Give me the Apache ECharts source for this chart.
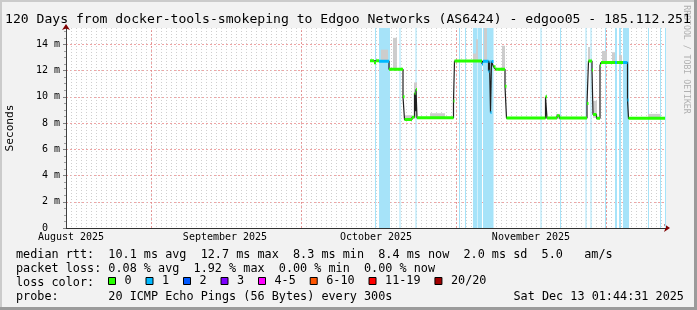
<!DOCTYPE html>
<html><head><meta charset="utf-8">
<script src="https://cdn.jsdelivr.net/npm/echarts@6/dist/echarts.min.js"></script>
<style>html,body{margin:0;padding:0;background:#f2f2f2}#c{width:697px;height:310px}</style>
</head><body><div id="c"></div>
<script>
// x unit: days since 2025-08-15 00:00 ; y unit: milliseconds
const xMinDay = 0, xMaxDay = 120;
const yMaxMs = 15.25;
const monthStartDays = [17, 47, 78, 108];          // Sep 1, Oct 1, Nov 1, Dec 1
const monthLabelDays = [1.0, 31.8, 62.0, 93.0];
const monthLabels = ['August 2025', 'September 2025', 'October 2025', 'November 2025'];

// median rtt: [startDay, endDay, ms, lossLevelIndex]
const medianSegs = [
  [60.8, 61.6, 12.75, 0], [61.6, 62.0, 12.6, 0], [62.0, 62.6, 12.75, 0],
  [62.6, 64.6, 12.72, 1], [64.6, 67.4, 12.1, 0], [67.4, 67.7, 10.0, 0],
  [67.7, 69.2, 8.27, 0], [69.2, 69.7, 8.45, 0], [69.7, 69.9, 10.27, 0],
  [69.9, 70.0, 8.9, 0], [70.0, 70.2, 10.57, 0], [70.2, 77.5, 8.4, 0],
  [77.5, 77.7, 9.68, 0], [77.7, 83.2, 12.73, 0], [83.2, 83.4, 12.5, 1],
  [83.4, 84.5, 12.72, 1], [84.5, 84.7, 11.95, 1], [84.7, 84.9, 12.7, 1],
  [84.9, 85.1, 8.8, 1], [85.1, 85.5, 12.7, 1], [85.5, 85.9, 12.3, 0],
  [85.9, 87.8, 12.1, 0], [87.8, 88.1, 10.8, 0], [88.1, 95.9, 8.38, 0],
  [95.9, 96.2, 10.0, 0], [96.2, 98.2, 8.38, 0], [98.2, 98.7, 8.56, 0],
  [98.7, 104.2, 8.38, 0], [104.2, 104.5, 9.5, 0], [104.5, 105.2, 12.73, 0],
  [105.2, 105.4, 12.04, 0], [105.4, 106.1, 8.65, 0], [106.1, 106.8, 8.36, 0],
  [106.8, 107.0, 12.4, 0], [107.0, 109.8, 12.62, 0], [109.8, 110.2, 12.62, 1],
  [110.2, 111.4, 12.62, 0], [111.4, 112.3, 12.62, 1], [112.3, 112.5, 9.76, 1],
  [112.5, 119.8, 8.36, 0]
];

// smoke (ping spread) spikes: [startDay, endDay, lowMs, highMs]
const smokeSpikes = [
  [63.0, 64.4, 12.7, 13.6], [65.4, 66.2, 12.1, 14.5], [67.8, 69.2, 8.2, 8.6],
  [69.6, 70.2, 8.4, 11.1], [72.8, 75.8, 8.4, 8.75], [81.4, 82.2, 12.7, 13.3],
  [82.0, 82.4, 12.7, 14.4], [83.6, 84.2, 12.7, 15.25], [87.2, 87.8, 12.1, 13.9],
  [98.0, 98.8, 8.3, 8.7], [104.4, 104.8, 12.7, 13.8], [105.4, 106.2, 8.4, 9.7],
  [107.2, 108.2, 12.6, 13.5], [109.2, 109.8, 12.6, 13.4], [110.6, 111.2, 12.6, 13.2],
  [116.4, 118.8, 8.3, 8.7]
];

// loss background periods: [startDay, endDay]
const lossBands = [
  [61.8, 62.0], [62.6, 64.8], [66.7, 66.9], [69.9, 70.1], [78.6, 78.8], [79.8, 80.0],
  [81.4, 82.3], [82.4, 83.2], [83.4, 85.5], [94.9, 95.1], [98.8, 99.0], [103.9, 104.1],
  [104.9, 105.1], [107.8, 108.0], [109.8, 110.2], [110.6, 111.0], [111.4, 112.6],
  [116.4, 116.6], [118.8, 119.0], [119.8, 120.0]
];

const lossLevels = ['0', '1', '2', '3', '4-5', '6-10', '11-19', '20/20'];
const lossColors = ['#26ff00', '#00b8ff', '#0059ff', '#7e00ff', '#ff00ff', '#ff5500', '#ff0000', '#a00000'];

const titleText = '120 Days from docker-tools-smokeping to Edgoo Networks (AS6424) - edgoo05 - 185.112.251';
const statRtt = 'median rtt:  10.1 ms avg  12.7 ms max  8.3 ms min  8.4 ms now  2.0 ms sd  5.0   am/s';
const statLoss = 'packet loss: 0.08 % avg  1.92 % max  0.00 % min  0.00 % now';
const lossColorLabel = 'loss color:';
const probeText = 'probe:       20 ICMP Echo Pings (56 Bytes) every 300s';
const dateText = 'Sat Dec 13 01:44:31 2025';

const FONT = '"DejaVu Sans Mono", monospace';

const medianPts = [];
medianSegs.forEach(s => { medianPts.push([s[0], s[2]], [s[1], s[2]]); });

const lossSeries = lossLevels.map((name, i) => {
  const pts = [];
  medianSegs.forEach(s => { if (s[3] === i) pts.push([s[0], s[2]], [s[1], s[2]], [s[1], '-']); });
  return {
    type: 'line', name: name, data: pts, showSymbol: false, symbol: 'none',
    color: lossColors[i], itemStyle: { color: lossColors[i] },
    lineStyle: { color: lossColors[i], width: 3, cap: 'butt' },
    connectNulls: false, silent: true, z: 4, animation: false
  };
});

const chart = echarts.init(document.getElementById('c'), null, { renderer: 'canvas' });
chart.setOption({
  animation: false,
  backgroundColor: '#f2f2f2',
  grid: { left: 66, top: 28, width: 600, height: 200, show: true, backgroundColor: '#ffffff', borderWidth: 0 },
  xAxis: [{
    type: 'value', min: xMinDay, max: xMaxDay, interval: 1,
    axisLine: { show: true, lineStyle: { color: '#303030', width: 1 } },
    axisTick: { show: false },
    axisLabel: {
      customValues: monthLabelDays, margin: 4, fontFamily: FONT, fontSize: 10, color: '#000',
      formatter: v => { const i = monthLabelDays.indexOf(v); return i >= 0 ? monthLabels[i] : ''; }
    },
    splitLine: { show: true, showMinLine: false, showMaxLine: false, lineStyle: { color: '#cfcfcf', type: [1, 2], width: 1 } }
  }, {
    type: 'value', min: xMinDay, max: xMaxDay, position: 'bottom',
    axisLine: { show: true, symbol: ['none', 'arrow'], symbolSize: [6, 6], symbolOffset: [0, 4], lineStyle: { color: '#800000', width: 0 } },
    axisTick: { show: false }, axisLabel: { show: false }, splitLine: { show: false }
  }],
  yAxis: [{
    type: 'value', min: 0, max: yMaxMs, interval: 2, position: 'left',
    axisLine: { show: true, lineStyle: { color: '#404040', width: 1 } },
    axisTick: { show: true, length: 3, lineStyle: { color: '#808080' } },
    axisLabel: { margin: 6, fontFamily: FONT, fontSize: 10, color: '#000', showMaxLabel: false,
      formatter: v => v === 0 ? '0  ' : v + ' m' },
    splitLine: { show: true, showMinLine: false, showMaxLine: false, lineStyle: { color: 'rgba(225,90,90,0.55)', type: [2, 2], width: 1 } }
  }, {
    type: 'value', min: 0, max: yMaxMs, interval: 0.5, position: 'left',
    axisLine: { show: false },
    axisTick: { show: true, length: 2, lineStyle: { color: '#a0a0a0' } },
    axisLabel: { show: false },
    splitLine: { show: true, showMinLine: false, showMaxLine: false, lineStyle: { color: '#cfcfcf', type: [1, 2], width: 1 } },
    z: -1
  }, {
    type: 'value', min: 0, max: yMaxMs, position: 'left',
    axisLine: { show: true, symbol: ['none', 'arrow'], symbolSize: [6, 6], symbolOffset: [0, 4], lineStyle: { color: '#800000', width: 0 } },
    axisTick: { show: false }, axisLabel: { show: false }, splitLine: { show: false }
  }],
  legend: {
    left: 108, top: 275, padding: 0, icon: 'rect', itemWidth: 7, itemHeight: 7, itemGap: 13.9,
    selectedMode: false, data: lossLevels,
    itemStyle: { borderColor: '#000', borderWidth: 1 },
    textStyle: { fontFamily: FONT, fontSize: 11.8, color: '#000', padding: [0, 0, 0, 4] }
  },
  series: [{
    type: 'custom', name: 'smoke', data: smokeSpikes, encode: { x: [0, 1], y: [2, 3] },
    silent: true, z: 2,
    renderItem: (params, api) => {
      const a = api.coord([api.value(0), api.value(3)]);
      const b = api.coord([api.value(1), api.value(2)]);
      return { type: 'rect', shape: { x: a[0], y: a[1], width: Math.max(1, b[0] - a[0]), height: b[1] - a[1] },
        style: { fill: '#cdcdcd' } };
    }
  }, {
    type: 'line', name: 'median', data: medianPts, showSymbol: false, symbol: 'none', silent: true, z: 3,
    lineStyle: { color: '#202020', width: 1.2 },
    markArea: { silent: true, z: 1, itemStyle: { color: '#a6e3f9' },
      data: lossBands.map(b => [{ xAxis: b[0] }, { xAxis: b[1] }]) },
    markLine: { silent: true, z: 1, symbol: 'none', label: { show: false },
      lineStyle: { color: 'rgba(225,90,90,0.55)', type: [2, 2], width: 1 },
      data: monthStartDays.map(d => ({ xAxis: d })) }
  }].concat(lossSeries),
  graphic: [
    { type: 'rect', shape: { x: 0, y: 0, width: 697, height: 2 }, style: { fill: '#cbcbcb' }, silent: true },
    { type: 'rect', shape: { x: 0, y: 0, width: 2, height: 310 }, style: { fill: '#cbcbcb' }, silent: true },
    { type: 'rect', shape: { x: 694, y: 0, width: 3, height: 310 }, style: { fill: '#9b9b9b' }, silent: true },
    { type: 'rect', shape: { x: 0, y: 307, width: 697, height: 3 }, style: { fill: '#9b9b9b' }, silent: true },
    { type: 'text', x: 686.5, y: 59.5, rotation: -Math.PI / 2, silent: true,
      style: { text: 'RRDTOOL / TOBI OETIKER', fontFamily: FONT, fontSize: 8.2, fill: '#b0b0b0', align: 'center', verticalAlign: 'middle' } },
    { type: 'text', x: 5, y: 19.5, silent: true, z: 10,
      style: { text: titleText, fontFamily: FONT, fontSize: 13.1, fill: '#000', verticalAlign: 'middle' } },
    { type: 'text', x: 10.3, y: 128, rotation: Math.PI / 2, silent: true,
      style: { text: 'Seconds', fontFamily: FONT, fontSize: 11.2, fill: '#000', align: 'center', verticalAlign: 'middle' } },
    { type: 'text', x: 16, y: 254.5, silent: true,
      style: { text: statRtt, fontFamily: FONT, fontSize: 11.8, fill: '#000', verticalAlign: 'middle' } },
    { type: 'text', x: 16, y: 268.5, silent: true,
      style: { text: statLoss, fontFamily: FONT, fontSize: 11.8, fill: '#000', verticalAlign: 'middle' } },
    { type: 'text', x: 16, y: 282.5, silent: true,
      style: { text: lossColorLabel, fontFamily: FONT, fontSize: 11.8, fill: '#000', verticalAlign: 'middle' } },
    { type: 'text', x: 16, y: 296.5, silent: true,
      style: { text: probeText, fontFamily: FONT, fontSize: 11.8, fill: '#000', verticalAlign: 'middle' } },
    { type: 'text', x: 513.5, y: 296.5, silent: true,
      style: { text: dateText, fontFamily: FONT, fontSize: 11.8, fill: '#000', verticalAlign: 'middle' } }
  ]
});
</script></body></html>
